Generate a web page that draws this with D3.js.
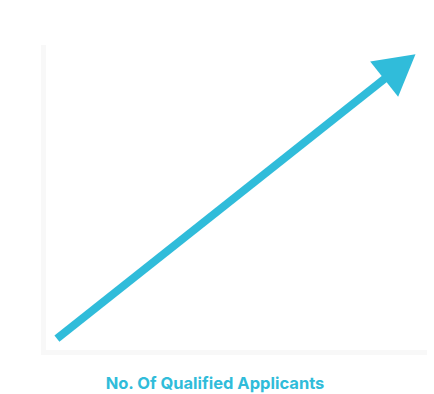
<!DOCTYPE html>
<html>
<head>
<meta charset="utf-8">
<script src="https://cdn.jsdelivr.net/npm/d3@7"></script>
<style>
  html, body { margin: 0; padding: 0; background: #ffffff; }
  svg { display: block; }
</style>
</head>
<body>
<script>
// Data (conceptual trend: start and end of the growth arrow)
const arrowX = [0.35, 9.7];
const arrowY = [0.45, 9.7];
const xDomain = [0, 10];
const yDomain = [0, 10];
const axisLabel = "No. Of Qualified Applicants";

const W = 434, H = 394;
const blue = "#30bcda";
const axisGrey = "#f8f8f8";

const svg = d3.select("body").append("svg")
  .attr("width", W).attr("height", H);

const x = d3.scaleLinear().domain(xDomain).range([43.5, 427]);
const y = d3.scaleLinear().domain(yDomain).range([352.5, 45]);

// Faint axes
svg.append("line")
  .attr("x1", x(xDomain[0])).attr("x2", x(xDomain[0]))
  .attr("y1", y(yDomain[1])).attr("y2", y(yDomain[0]) + 2.5)
  .attr("stroke", axisGrey).attr("stroke-width", 5);
svg.append("line")
  .attr("x1", x(xDomain[0]) - 2.5).attr("x2", x(xDomain[1]))
  .attr("y1", y(yDomain[0])).attr("y2", y(yDomain[0]))
  .attr("stroke", axisGrey).attr("stroke-width", 5);

// Arrow
const x0 = x(arrowX[0]), y0 = y(arrowY[0]);
const x1 = x(arrowX[1]), y1 = y(arrowY[1]);
const dx = x1 - x0, dy = y1 - y0;
const len = Math.hypot(dx, dy);
const ux = dx / len, uy = dy / len;
const headLen = 40, headHalf = 22.5;
const bx = x1 - ux * headLen, by = y1 - uy * headLen;
const px = -uy, py = ux;

svg.append("line")
  .attr("x1", x0).attr("y1", y0)
  .attr("x2", bx + ux * 2).attr("y2", by + uy * 2)
  .attr("stroke", blue).attr("stroke-width", 8)
  .attr("stroke-linecap", "butt");

svg.append("path")
  .attr("d", d3.line()([
    [x1, y1],
    [bx + px * headHalf, by + py * headHalf],
    [bx - px * headHalf, by - py * headHalf]
  ]) + "Z")
  .attr("fill", blue);

// Label
svg.append("text")
  .attr("x", 215).attr("y", 389)
  .attr("text-anchor", "middle")
  .attr("font-family", "Inter, 'Open Sans', sans-serif")
  .attr("font-weight", 700)
  .attr("font-size", 16.5)
  .attr("fill", blue)
  .text(axisLabel);
</script>
</body>
</html>
